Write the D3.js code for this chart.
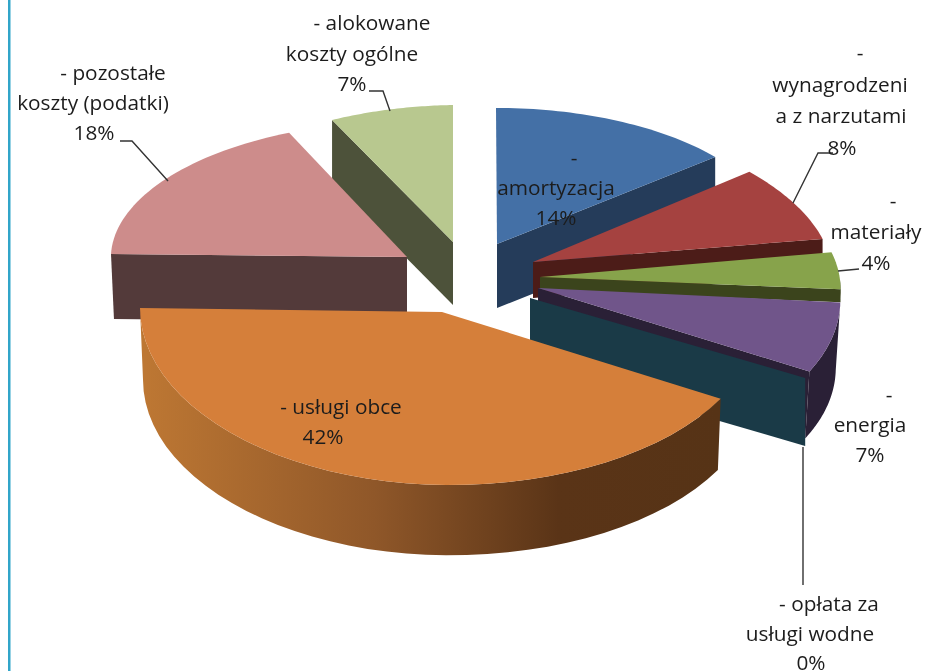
<!DOCTYPE html>
<html>
<head>
<meta charset="utf-8">
<script src="https://cdn.jsdelivr.net/npm/d3@7"></script>
<style>
    html, body { margin: 0; padding: 0; background: #fff; }
    svg { display: block; filter: blur(0.45px); }
    text { font-family: "Open Sans", sans-serif; font-size: 20.8px; fill: #1c1c1c; text-anchor: middle; dominant-baseline: central; }
</style>
</head>
<body>
<svg id="chart" width="926" height="671"></svg>
<script>
// Values.
var categories = ["amortyzacja", "wynagrodzenia z narzutami", "materiały", "energia", "opłata za usługi wodne", "usługi obce", "pozostałe koszty (podatki)", "alokowane koszty ogólne"];
var shares = [14, 8, 4, 7, 0, 42, 18, 7];
var labelLines = [
    ["-", "amortyzacja"],
    ["-", "wynagrodzeni", "a z narzutami"],
    ["-", "materiały"],
    ["-", "energia"],
    ["- opłata za", "usługi wodne"],
    ["- usługi obce"],
    ["- pozostałe", "koszty (podatki)"],
    ["- alokowane", "koszty ogólne"]
];
var topColors = ["#4470a6", "#a54240", "#87a34b", "#70558a", "#1a3a47", "#d57f3a", "#cd8c8b", "#b8c88f"];
var wallColors = ["#253c5a", "#4c1c18", "#3b441c", "#2a2036", "#1a3a47", "url(#orangeWall)", "#533a3a", "#4d523a"];

// Every slice of the original sits in its own distorted plane, so each one
// has its own projection: origin, 2x2 matrix, wall height, wall inset, cut edge.
// aRight is the wider half of the big slice (perspective in the original).
var planes = [
    {ox: 497, oy: 244, a: 284, b: -1, c: -0.5, d: 136, depth: 64, inset: 1, cut: "end"},
    {ox: 533, oy: 262, a: 299, b: -22, c: 4.5, d: 147, depth: 36, inset: 1, cut: "end"},
    {ox: 540, oy: 277, a: 300, b: -17, c: 3, d: 148, depth: 13, inset: 1, cut: "end"},
    {ox: 538, oy: 288, a: 302, b: -14, c: 4, d: 166, depth: 68, inset: 0.985, cut: "end"},
    {ox: 530, oy: 298, a: 314, b: 0, c: 0, d: 166, depth: 68, inset: 1, cut: "end"},
    {ox: 442, oy: 312, a: 302, aRight: 318, b: 0, c: 4, d: 173, depth: 72, inset: 0.99, cut: "none"},
    {ox: 407, oy: 257, a: 296, b: 9, c: 3, d: 136, depth: 65, inset: 0.99, cut: "start"},
    {ox: 453, oy: 242, a: 284, b: 0, c: -4.6, d: 137, depth: 63, inset: 1, cut: "start"}
];
var drawOrder = [
    [0, "wall"], [0, "top"], [1, "wall"], [1, "top"], [2, "wall"], [2, "top"],
    [7, "wall"], [7, "top"], [6, "wall"], [6, "top"],
    [3, "wall"], [4, "wall"], [3, "top"], [5, "wall"], [5, "top"]
];
var labelPlaces = [
    {y: 157, gap: 30, x: [574, 556, 556]},
    {y: 52, gap: 31.5, x: [860, 840, 841, 842]},
    {y: 200, gap: 31, x: [893, 876, 876]},
    {y: 394, gap: 30, x: [889, 870, 870]},
    {y: 603, gap: 29.5, x: [829, 810, 811]},
    {y: 406, gap: 30, x: [341, 323]},
    {y: 72, gap: 30, x: [113, 93, 94]},
    {y: 22, gap: 30.5, x: [372, 352, 352]}
];
var leaders = [
    [[369, 91], [383, 91], [390, 111]],
    [[120, 141], [132, 141], [168, 181]],
    [[833, 153], [818, 153], [793, 203]],
    [[859, 269], [838, 271]],
    [[803, 447], [803, 585]]
];

function project(p, ang, drop) {
    var sx = Math.sin(ang), cx = Math.cos(ang), k = drop ? p.inset : 1;
    var a = (sx > 0 && p.aRight) ? p.aRight : p.a;
    return [p.ox + k * (a * sx + p.b * cx), p.oy + k * (p.c * sx - p.d * cx) + (drop ? p.depth : 0)];
}

function arcPoints(p, from, to, drop) {
    var n = 40, pts = [];
    for (var i = 0; i <= n; i++) {
        pts.push(project(p, from + (to - from) * i / n, drop));
    }
    return pts;
}

function main() {
    var svg = d3.select("#chart");
    var line = d3.line();

    // Page frame on the left.
    svg.append("rect").attr("x", 8).attr("y", 0).attr("width", 2.5).attr("height", 671).attr("fill", "#31a5c9");

    var grad = svg.append("defs").append("linearGradient")
        .attr("id", "orangeWall").attr("gradientUnits", "userSpaceOnUse")
        .attr("x1", 145).attr("x2", 720).attr("y1", 0).attr("y2", 0);
    grad.append("stop").attr("offset", "0").attr("stop-color", "#bd7733");
    grad.append("stop").attr("offset", "0.4").attr("stop-color", "#8f5729");
    grad.append("stop").attr("offset", "0.72").attr("stop-color", "#5a3417");
    grad.append("stop").attr("offset", "1").attr("stop-color", "#563316");

    var pie = d3.pie().sort(null).value(function (d) { return d; });
    var arcs = pie(shares);

    var g = svg.append("g");
    drawOrder.forEach(function (step) {
        var i = step[0], p = planes[i], d = arcs[i];
        if (step[1] == "top") {
            if (d.value == 0) return;
            var pts = [[p.ox, p.oy]].concat(arcPoints(p, d.startAngle, d.endAngle, false));
            g.append("path").attr("d", line(pts) + "Z").attr("fill", topColors[i]);
            return;
        }
        // Flat cut face.
        if (p.cut != "none") {
            var ang = p.cut == "end" ? d.endAngle : d.startAngle;
            var face = [[p.ox, p.oy], project(p, ang, false), project(p, ang, true),
                [p.ox, p.oy + p.depth]];
            g.append("path").attr("d", line(face) + "Z").attr("fill", wallColors[i]);
        }
        // Outer wall, only the part that faces the viewer.
        var from = Math.max(d.startAngle, Math.PI / 2), to = Math.min(d.endAngle, Math.PI * 1.5);
        if (to > from) {
            var outer = arcPoints(p, from, to, false).concat(arcPoints(p, to, from, true));
            g.append("path").attr("d", line(outer) + "Z").attr("fill", wallColors[i]);
        }
    });

    svg.append("g").selectAll("path").data(leaders).enter().append("path")
        .attr("d", function (d) { return line(d); })
        .attr("fill", "none").attr("stroke", "#333").attr("stroke-width", 1.4);

    // Labels: wrapped name lines, then the percentage.
    labelLines.forEach(function (lines, i) {
        var all = lines.concat([shares[i] + "%"]);
        all.forEach(function (t, j) {
            svg.append("text")
                .attr("x", labelPlaces[i].x[j])
                .attr("y", labelPlaces[i].y + j * labelPlaces[i].gap)
                .text(t);
        });
    });
}

main();
</script>
</body>
</html>
